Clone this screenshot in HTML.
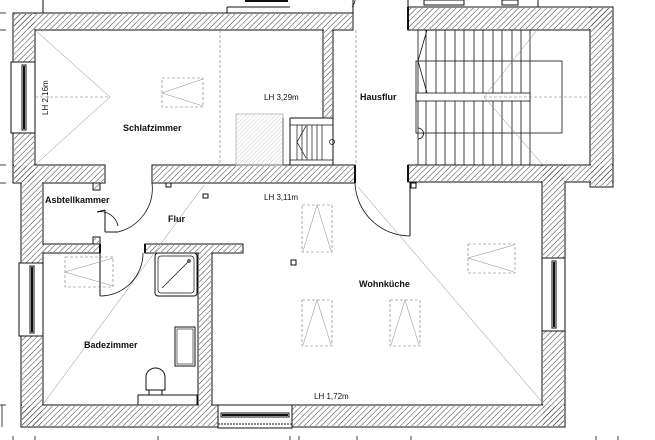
<!DOCTYPE html>
<html><head><meta charset="utf-8"><style>
html,body{margin:0;padding:0;background:#fff;width:655px;height:440px;overflow:hidden}
text{font-family:"Liberation Sans",sans-serif;fill:#111}
.b{font-weight:bold;font-size:9px}
.s{font-size:8px}
</style></head><body>
<svg width="655" height="440" viewBox="0 0 655 440" xmlns="http://www.w3.org/2000/svg">
<defs>
<pattern id="h" patternUnits="userSpaceOnUse" width="4" height="4" patternTransform="rotate(45)">
<line x1="0" y1="0" x2="0" y2="4" stroke="#222" stroke-width="0.9"/>
</pattern>
<pattern id="hl" patternUnits="userSpaceOnUse" width="3" height="3" patternTransform="rotate(45)">
<line x1="0" y1="0" x2="0" y2="3" stroke="#bbb" stroke-width="0.7"/>
</pattern>
</defs>
<g stroke="#111" stroke-width="1" fill="#fff">
<rect x="13" y="13" width="340" height="17"/>
<rect x="13" y="13" width="22" height="170"/>
<rect x="13" y="165" width="92" height="18"/>
<rect x="152" y="165" width="203" height="18"/>
<rect x="323" y="30" width="10" height="88"/>
<rect x="408" y="7" width="205" height="23"/>
<rect x="590" y="7" width="23" height="180"/>
<rect x="408" y="165" width="205" height="17"/>
<rect x="542" y="165" width="23" height="262"/>
<rect x="21" y="183" width="22" height="244"/>
<rect x="21" y="405" width="544" height="22"/>
<rect x="43" y="244" width="57" height="9"/>
<rect x="145" y="244" width="98" height="9"/>
<rect x="198" y="253" width="14" height="152"/>
<rect x="93" y="183" width="7" height="7"/>
<rect x="93" y="237" width="7" height="7"/>
</g>
<g stroke="none" fill="#fff">
<rect x="14" y="14" width="338" height="15"/>
<rect x="14" y="14" width="20" height="168"/>
<rect x="14" y="166" width="90" height="16"/>
<rect x="153" y="166" width="201" height="16"/>
<rect x="324" y="29" width="8" height="88"/>
<rect x="409" y="8" width="203" height="21"/>
<rect x="591" y="8" width="21" height="178"/>
<rect x="409" y="166" width="203" height="15"/>
<rect x="543" y="166" width="21" height="260"/>
<rect x="22" y="182" width="20" height="244"/>
<rect x="22" y="406" width="542" height="20"/>
<rect x="42" y="245" width="57" height="7"/>
<rect x="146" y="245" width="96" height="7"/>
<rect x="199" y="252" width="12" height="154"/>
</g>
<g stroke="none" fill="url(#h)">
<rect x="14" y="14" width="338" height="15"/>
<rect x="14" y="14" width="20" height="168"/>
<rect x="14" y="166" width="90" height="16"/>
<rect x="153" y="166" width="201" height="16"/>
<rect x="324" y="29" width="8" height="88"/>
<rect x="409" y="8" width="203" height="21"/>
<rect x="591" y="8" width="21" height="178"/>
<rect x="409" y="166" width="203" height="15"/>
<rect x="543" y="166" width="21" height="260"/>
<rect x="22" y="182" width="20" height="244"/>
<rect x="22" y="406" width="542" height="20"/>
<rect x="42" y="245" width="57" height="7"/>
<rect x="146" y="245" width="96" height="7"/>
<rect x="199" y="252" width="12" height="154"/>
<rect x="94" y="184" width="5" height="5"/>
<rect x="94" y="238" width="5" height="5"/>
</g>
<g stroke="#111" stroke-width="1" fill="#fff">
<rect x="11" y="62" width="24" height="71"/>
<rect x="19" y="263" width="24" height="73"/>
<rect x="542" y="258" width="23" height="73"/>
<rect x="218" y="405" width="74" height="23"/>
</g>
<g stroke="#111" fill="none" stroke-width="1">
<rect x="22" y="65" width="4" height="65"/><line x1="24" y1="66" x2="24" y2="129" stroke-width="2"/>
<rect x="30" y="266" width="4" height="67"/><line x1="32" y1="267" x2="32" y2="332" stroke-width="2"/>
<rect x="552" y="261" width="4" height="67"/><line x1="554" y1="262" x2="554" y2="327" stroke-width="2"/>
<rect x="221" y="413" width="68" height="4"/><line x1="222" y1="415" x2="288" y2="415" stroke-width="2"/>
<line x1="218" y1="424" x2="292" y2="424" stroke-dasharray="2,1"/>
<line x1="43" y1="0" x2="43" y2="13"/><line x1="227" y1="7" x2="227" y2="13"/><line x1="227" y1="7" x2="290" y2="7"/>
<line x1="245" y1="1" x2="288" y2="1" stroke-width="2"/>
<line x1="408" y1="0" x2="408" y2="13"/><line x1="538" y1="0" x2="538" y2="7"/>
<rect x="424" y="0" width="40" height="5"/><rect x="502" y="0" width="16" height="5"/>
<line x1="353" y1="0" x2="353" y2="30"/>
<line x1="408" y1="7" x2="408" y2="30" stroke-width="2"/>
<line x1="408" y1="165" x2="408" y2="182" stroke-width="2"/>
<line x1="355" y1="165" x2="355" y2="183" stroke-width="2"/>
<line x1="333" y1="118" x2="333" y2="165"/>
<line x1="290" y1="118" x2="333" y2="118"/>
<line x1="283" y1="118" x2="283" y2="165"/><line x1="290" y1="118" x2="290" y2="165"/>
<g stroke-width="0.7">
<line x1="297" y1="125" x2="297" y2="160"/><line x1="302" y1="125" x2="302" y2="160"/><line x1="307" y1="125" x2="307" y2="160"/><line x1="312" y1="125" x2="312" y2="160"/><line x1="317" y1="125" x2="317" y2="160"/><line x1="322" y1="125" x2="322" y2="160"/>
<polyline points="306,126 297,142 306,158"/><line x1="290" y1="125" x2="333" y2="125"/><line x1="290" y1="160" x2="333" y2="160"/>
</g>
<circle cx="332" cy="142" r="2.5" stroke-width="0.7"/>
<rect x="236" y="114" width="47" height="51" fill="url(#hl)" stroke="#999" stroke-width="0.6"/>
<g stroke-width="0.8">
<line x1="418" y1="30" x2="418" y2="165"/>
<line x1="426" y1="30" x2="426" y2="165"/><line x1="436" y1="30" x2="436" y2="165"/><line x1="445" y1="30" x2="445" y2="165"/><line x1="455" y1="30" x2="455" y2="165"/><line x1="464" y1="30" x2="464" y2="165"/><line x1="474" y1="30" x2="474" y2="165"/><line x1="483" y1="30" x2="483" y2="165"/><line x1="493" y1="30" x2="493" y2="165"/><line x1="502" y1="30" x2="502" y2="165"/><line x1="512" y1="30" x2="512" y2="165"/><line x1="521" y1="30" x2="521" y2="165"/><line x1="530" y1="30" x2="530" y2="165"/>
<rect x="416" y="93" width="114" height="8" fill="#fff"/>
<rect x="416" y="61" width="146" height="72"/>
<polyline points="427,30 418,61 427,93"/>
<path d="M418,128 a5,5 0 0 1 0,11"/>
</g>
<path d="M355,183 A55,55 0 0 0 410,236" stroke-width="0.8"/><line x1="410" y1="182" x2="410" y2="236"/>
<path d="M355,0 A12,12 0 0 1 352,7" stroke-width="0.8"/>
<path d="M152,183 A45,45 0 0 1 118,232" stroke-width="0.8"/><line x1="105" y1="210" x2="105" y2="232"/><line x1="105" y1="232" x2="118" y2="232"/>
<path d="M97,212 A18,18 0 0 1 118,226" stroke-width="0.8"/><line x1="97" y1="212" x2="105" y2="210"/>
<path d="M100,296 A43,43 0 0 0 143,253" stroke-width="0.8"/><line x1="100" y1="253" x2="100" y2="296"/>
<line x1="145" y1="244" x2="145" y2="253" stroke-width="2"/><line x1="100" y1="244" x2="100" y2="253" stroke-width="2"/>
<rect x="155" y="253" width="42" height="43" rx="3"/>
<rect x="158" y="256" width="36" height="37" rx="3" stroke-width="0.7"/>
<line x1="162" y1="288" x2="188" y2="262" stroke-width="0.7"/><circle cx="189" cy="261" r="1.2"/>
<rect x="175" y="327" width="20" height="39"/><rect x="177" y="329" width="16" height="35" stroke-width="0.6"/>
<path d="M146,390 L146,377 A9.5,9 0 0 1 165,377 L165,390 Z"/>
<rect x="138" y="395" width="59" height="10"/>
<rect x="149" y="390" width="13" height="5"/>
<rect x="166" y="183" width="5" height="4"/><rect x="203" y="194" width="5" height="4"/><rect x="291" y="260" width="5" height="5"/><rect x="411" y="183" width="5" height="5"/>
</g>
<g stroke="#777" fill="none" stroke-width="0.6" stroke-dasharray="3,2">
<line x1="220" y1="30" x2="220" y2="165"/>
<line x1="356" y1="30" x2="356" y2="165"/>
<line x1="35" y1="97" x2="110" y2="97"/>
<rect x="162" y="78" width="41" height="29"/>
<rect x="65" y="257" width="48" height="30"/>
<rect x="302" y="205" width="30" height="47"/>
<rect x="302" y="300" width="30" height="46"/>
<rect x="390" y="300" width="30" height="46"/>
<rect x="468" y="244" width="47" height="29"/>
<line x1="484" y1="97" x2="590" y2="97"/>
</g>
<g stroke="#888" fill="none" stroke-width="0.5">
<polyline points="35,30 110,97 35,165"/>
<polyline points="203,79 162,93 203,106"/>
<polyline points="113,258 65,272 113,286"/>
<polyline points="303,251 317,205 331,251"/>
<polyline points="303,345 317,300 331,345"/>
<polyline points="391,345 405,300 419,345"/>
<polyline points="514,245 468,258 514,272"/>
<polyline points="537,30 484,97 543,165"/>
<line x1="44" y1="403" x2="204" y2="185"/>
<line x1="358" y1="187" x2="543" y2="403"/>
</g>
<g stroke="#111" stroke-width="0.8">
<line x1="0" y1="13" x2="6" y2="13"/><line x1="0" y1="30" x2="6" y2="30"/><line x1="0" y1="165" x2="6" y2="165"/><line x1="0" y1="183" x2="6" y2="183"/><line x1="0" y1="405" x2="6" y2="405"/><line x1="2" y1="405" x2="2" y2="427"/>
<line x1="13" y1="436" x2="13" y2="440"/><line x1="35" y1="436" x2="35" y2="440"/><line x1="158" y1="436" x2="158" y2="440"/><line x1="290" y1="436" x2="290" y2="440"/><line x1="299" y1="436" x2="299" y2="440"/><line x1="357" y1="436" x2="357" y2="440"/><line x1="411" y1="436" x2="411" y2="440"/><line x1="596" y1="436" x2="596" y2="440"/><line x1="618" y1="436" x2="618" y2="440"/>
</g>
<text class="b" x="123" y="131">Schlafzimmer</text>
<text class="b" x="360" y="100">Hausflur</text>
<text class="b" x="45" y="203">Asbtellkammer</text>
<text class="b" x="168" y="222">Flur</text>
<text class="b" x="359" y="287">Wohnküche</text>
<text class="b" x="84" y="348">Badezimmer</text>
<text class="s" x="264" y="100">LH 3,29m</text>
<text class="s" x="264" y="200">LH 3,11m</text>
<text class="s" x="314" y="399">LH 1,72m</text>
<text class="s" transform="translate(48,115) rotate(-90)">LH 2,16m</text>
</svg>
</body></html>
